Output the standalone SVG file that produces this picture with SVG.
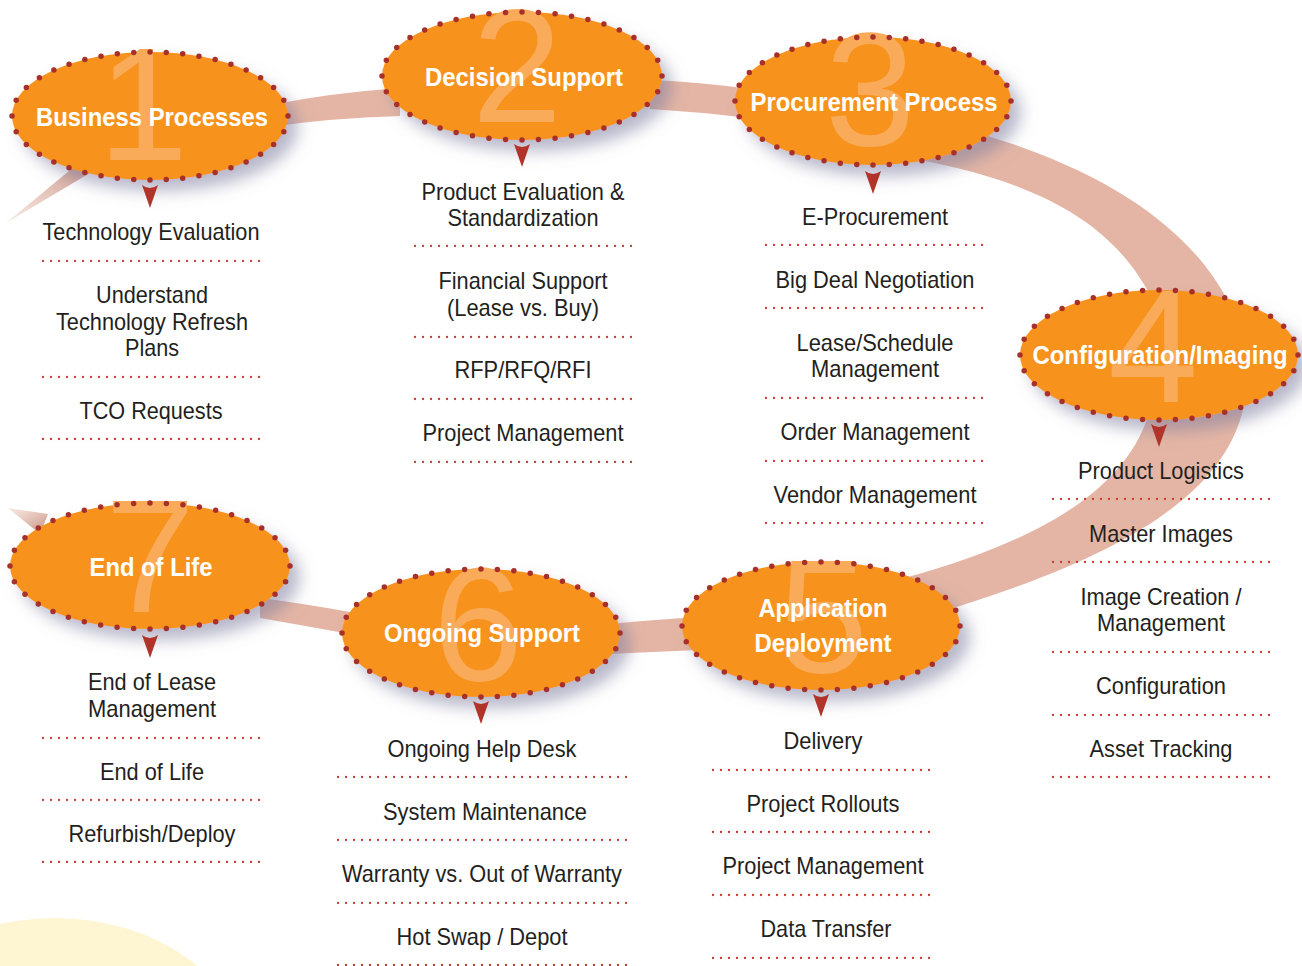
<svg xmlns="http://www.w3.org/2000/svg" width="1302" height="966" viewBox="0 0 1302 966">
<defs>
<style>
.node-fill{fill:#f7931e;}
.dots{fill:none;stroke:#a8302a;stroke-width:5.5;stroke-linecap:round;stroke-dasharray:0 1;}
.num{font-family:"Liberation Sans",Arial,sans-serif;font-size:162px;fill:#f9ab5a;}
.title{font-family:"Liberation Sans",Arial,sans-serif;font-weight:bold;font-size:26px;fill:#ffffff;text-anchor:middle;}
.item{font-family:"Liberation Sans",Arial,sans-serif;font-size:24px;fill:#231f20;text-anchor:middle;}
.sep{stroke:#c23a30;stroke-width:2.3;stroke-linecap:round;stroke-dasharray:0 8;fill:none;}
.arrow{fill:#b1342a;}
.band{fill:#e4b5a4;}
</style>
<filter id="sh" x="-20%" y="-30%" width="150%" height="170%">
<feDropShadow dx="10" dy="11" stdDeviation="8" flood-color="#7e7ea0" flood-opacity="0.55"/>
</filter>
<linearGradient id="tail1" x1="0" y1="1" x2="1" y2="0">
<stop offset="0" stop-color="#e4b5a4" stop-opacity="0.3"/>
<stop offset="1" stop-color="#c48d7d"/>
</linearGradient>
<linearGradient id="tail7" x1="0" y1="0" x2="1" y2="1">
<stop offset="0" stop-color="#e4b5a4" stop-opacity="0.3"/>
<stop offset="1" stop-color="#c48d7d"/>
</linearGradient>
<path id="arr" d="M-8,0 Q0,6 8,0 L0,23 Z"/>
</defs>

<rect width="1302" height="966" fill="#ffffff"/>
<ellipse cx="55" cy="1060" rx="190" ry="142" fill="#fef5d3"/>

<g id="connectors">
<path d="M6,223 L75,166 L105,164 Z" style="fill:url(#tail1)"/>
<path class="band" d="M270,105 Q330,93 400,88 L400,116 Q330,118 270,127 Z"/>
<path class="band" d="M650,80 Q700,82 750,89 L750,118 Q700,112 650,109 Z"/>
<path class="band" d="M960,128 C1060,155 1180,205 1230,305 L1155,305 C1120,230 1050,185 920,160 Z"/>
<path class="band" d="M1245,400 C1230,490 1130,555 940,612 L905,578 C1060,535 1130,480 1150,410 Z"/>
<path class="band" d="M610,624 Q650,620 700,617 L700,650 Q650,652 610,654 Z"/>
<path class="band" d="M260,598 Q300,603 350,612 L350,634 Q300,625 260,618 Z"/>
<path d="M8,508 L48,514 L40,534 Z" style="fill:url(#tail7)"/>
</g>

<g id="node-1">
<ellipse class="node-fill" cx="150" cy="116" rx="138" ry="64" filter="url(#sh)"/>
<text class="num" x="98" y="160">1</text>
<ellipse class="dots" cx="150" cy="116" rx="138" ry="64" pathLength="40"/>
<text class="title" x="152" y="126" textLength="232" lengthAdjust="spacingAndGlyphs">Business Processes</text>
<use href="#arr" x="150" y="185" class="arrow"/>
<text class="item" x="151" y="240" textLength="217" lengthAdjust="spacingAndGlyphs">Technology Evaluation</text>
<line class="sep" x1="43" y1="261" x2="261" y2="261"/>
<text class="item" x="152" y="303" textLength="112" lengthAdjust="spacingAndGlyphs">Understand</text>
<text class="item" x="152" y="330" textLength="192" lengthAdjust="spacingAndGlyphs">Technology Refresh</text>
<text class="item" x="152" y="356" textLength="54" lengthAdjust="spacingAndGlyphs">Plans</text>
<line class="sep" x1="43" y1="377" x2="261" y2="377"/>
<text class="item" x="151" y="419" textLength="143" lengthAdjust="spacingAndGlyphs">TCO Requests</text>
<line class="sep" x1="43" y1="439" x2="261" y2="439"/>
</g>

<g id="node-2">
<ellipse class="node-fill" cx="522" cy="76" rx="140" ry="64" filter="url(#sh)"/>
<text class="num" x="472" y="122">2</text>
<ellipse class="dots" cx="522" cy="76" rx="140" ry="64" pathLength="40"/>
<text class="title" x="524" y="86" textLength="198" lengthAdjust="spacingAndGlyphs">Decision Support</text>
<use href="#arr" x="522" y="144" class="arrow"/>
<text class="item" x="523" y="200" textLength="203" lengthAdjust="spacingAndGlyphs">Product Evaluation &amp;</text>
<text class="item" x="523" y="226" textLength="151" lengthAdjust="spacingAndGlyphs">Standardization</text>
<line class="sep" x1="415" y1="246" x2="633" y2="246"/>
<text class="item" x="523" y="289" textLength="169" lengthAdjust="spacingAndGlyphs">Financial Support</text>
<text class="item" x="523" y="316" textLength="152" lengthAdjust="spacingAndGlyphs">(Lease vs. Buy)</text>
<line class="sep" x1="415" y1="337" x2="633" y2="337"/>
<text class="item" x="523" y="378" textLength="137" lengthAdjust="spacingAndGlyphs">RFP/RFQ/RFI</text>
<line class="sep" x1="415" y1="399" x2="633" y2="399"/>
<text class="item" x="523" y="441" textLength="201" lengthAdjust="spacingAndGlyphs">Project Management</text>
<line class="sep" x1="415" y1="462" x2="633" y2="462"/>
</g>

<g id="node-3">
<ellipse class="node-fill" cx="873" cy="101" rx="138" ry="64" filter="url(#sh)"/>
<text class="num" x="825" y="145">3</text>
<ellipse class="dots" cx="873" cy="101" rx="138" ry="64" pathLength="40"/>
<text class="title" x="874" y="111" textLength="247" lengthAdjust="spacingAndGlyphs">Procurement Process</text>
<use href="#arr" x="873" y="171" class="arrow"/>
<text class="item" x="875" y="225" textLength="146" lengthAdjust="spacingAndGlyphs">E-Procurement</text>
<line class="sep" x1="766" y1="245" x2="985" y2="245"/>
<text class="item" x="875" y="288" textLength="199" lengthAdjust="spacingAndGlyphs">Big Deal Negotiation</text>
<line class="sep" x1="766" y1="308" x2="985" y2="308"/>
<text class="item" x="875" y="351" textLength="157" lengthAdjust="spacingAndGlyphs">Lease/Schedule</text>
<text class="item" x="875" y="377" textLength="128" lengthAdjust="spacingAndGlyphs">Management</text>
<line class="sep" x1="766" y1="398" x2="985" y2="398"/>
<text class="item" x="875" y="440" textLength="189" lengthAdjust="spacingAndGlyphs">Order Management</text>
<line class="sep" x1="766" y1="461" x2="985" y2="461"/>
<text class="item" x="875" y="503" textLength="203" lengthAdjust="spacingAndGlyphs">Vendor Management</text>
<line class="sep" x1="766" y1="523" x2="985" y2="523"/>
</g>

<g id="node-4">
<ellipse class="node-fill" cx="1159" cy="355" rx="139" ry="65" filter="url(#sh)"/>
<text class="num" x="1108" y="402">4</text>
<ellipse class="dots" cx="1159" cy="355" rx="139" ry="65" pathLength="40"/>
<text class="title" x="1160" y="364" textLength="255" lengthAdjust="spacingAndGlyphs">Configuration/Imaging</text>
<use href="#arr" x="1159" y="424" class="arrow"/>
<text class="item" x="1161" y="479" textLength="166" lengthAdjust="spacingAndGlyphs">Product Logistics</text>
<line class="sep" x1="1053" y1="499" x2="1270" y2="499"/>
<text class="item" x="1161" y="542" textLength="144" lengthAdjust="spacingAndGlyphs">Master Images</text>
<line class="sep" x1="1053" y1="562" x2="1270" y2="562"/>
<text class="item" x="1161" y="605" textLength="161" lengthAdjust="spacingAndGlyphs">Image Creation /</text>
<text class="item" x="1161" y="631" textLength="128" lengthAdjust="spacingAndGlyphs">Management</text>
<line class="sep" x1="1053" y1="652" x2="1270" y2="652"/>
<text class="item" x="1161" y="694" textLength="130" lengthAdjust="spacingAndGlyphs">Configuration</text>
<line class="sep" x1="1053" y1="715" x2="1270" y2="715"/>
<text class="item" x="1161" y="757" textLength="143" lengthAdjust="spacingAndGlyphs">Asset Tracking</text>
<line class="sep" x1="1053" y1="777" x2="1270" y2="777"/>
</g>

<g id="node-5">
<ellipse class="node-fill" cx="821" cy="626" rx="139" ry="64" filter="url(#sh)"/>
<text class="num" x="778" y="672">5</text>
<ellipse class="dots" cx="821" cy="626" rx="139" ry="64" pathLength="40"/>
<text class="title" x="823" y="617" textLength="129" lengthAdjust="spacingAndGlyphs">Application</text>
<text class="title" x="823" y="652" textLength="137" lengthAdjust="spacingAndGlyphs">Deployment</text>
<use href="#arr" x="821" y="694" class="arrow"/>
<text class="item" x="823" y="749" textLength="79" lengthAdjust="spacingAndGlyphs">Delivery</text>
<line class="sep" x1="713" y1="770" x2="932" y2="770"/>
<text class="item" x="823" y="812" textLength="153" lengthAdjust="spacingAndGlyphs">Project Rollouts</text>
<line class="sep" x1="713" y1="832" x2="932" y2="832"/>
<text class="item" x="823" y="874" textLength="201" lengthAdjust="spacingAndGlyphs">Project Management</text>
<line class="sep" x1="713" y1="895" x2="932" y2="895"/>
<text class="item" x="826" y="937" textLength="131" lengthAdjust="spacingAndGlyphs">Data Transfer</text>
<line class="sep" x1="713" y1="958" x2="932" y2="958"/>
</g>

<g id="node-6">
<ellipse class="node-fill" cx="481" cy="633" rx="139" ry="64" filter="url(#sh)"/>
<text class="num" x="433" y="680">6</text>
<ellipse class="dots" cx="481" cy="633" rx="139" ry="64" pathLength="40"/>
<text class="title" x="482" y="642" textLength="196" lengthAdjust="spacingAndGlyphs">Ongoing Support</text>
<use href="#arr" x="481" y="701" class="arrow"/>
<text class="item" x="482" y="757" textLength="189" lengthAdjust="spacingAndGlyphs">Ongoing Help Desk</text>
<line class="sep" x1="338" y1="777" x2="628" y2="777"/>
<text class="item" x="485" y="820" textLength="204" lengthAdjust="spacingAndGlyphs">System Maintenance</text>
<line class="sep" x1="338" y1="840" x2="628" y2="840"/>
<text class="item" x="482" y="882" textLength="280" lengthAdjust="spacingAndGlyphs">Warranty vs. Out of Warranty</text>
<line class="sep" x1="338" y1="903" x2="628" y2="903"/>
<text class="item" x="482" y="945" textLength="171" lengthAdjust="spacingAndGlyphs">Hot Swap / Depot</text>
<line class="sep" x1="338" y1="965" x2="628" y2="965"/>
</g>

<g id="node-7">
<ellipse class="node-fill" cx="150" cy="566" rx="140" ry="63" filter="url(#sh)"/>
<text class="num" x="105" y="612">7</text>
<ellipse class="dots" cx="150" cy="566" rx="140" ry="63" pathLength="40"/>
<text class="title" x="151" y="576" textLength="123" lengthAdjust="spacingAndGlyphs">End of Life</text>
<use href="#arr" x="150" y="635" class="arrow"/>
<text class="item" x="152" y="690" textLength="128" lengthAdjust="spacingAndGlyphs">End of Lease</text>
<text class="item" x="152" y="717" textLength="128" lengthAdjust="spacingAndGlyphs">Management</text>
<line class="sep" x1="43" y1="738" x2="261" y2="738"/>
<text class="item" x="152" y="780" textLength="104" lengthAdjust="spacingAndGlyphs">End of Life</text>
<line class="sep" x1="43" y1="800" x2="261" y2="800"/>
<text class="item" x="152" y="842" textLength="167" lengthAdjust="spacingAndGlyphs">Refurbish/Deploy</text>
<line class="sep" x1="43" y1="862" x2="261" y2="862"/>
</g>
</svg>
